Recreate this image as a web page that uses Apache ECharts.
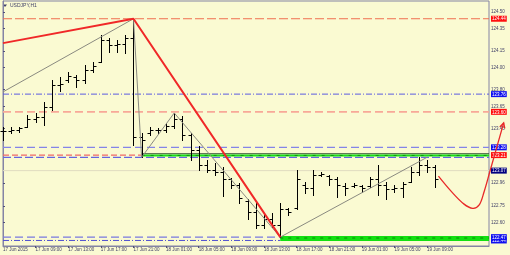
<!DOCTYPE html>
<html><head><meta charset="utf-8">
<script src="https://cdn.jsdelivr.net/npm/echarts@6/dist/echarts.min.js"></script>
<style>html,body{margin:0;padding:0;background:#FAFAD2}#c{width:510px;height:255px}</style>
</head><body><div id="c"></div>
<script>
// ---------- DATA ----------
const barOpen  = [123.43,123.43,123.44,123.46,123.54,123.55,123.64,123.84,123.89,123.91,123.89,123.98,124.05,124.25,124.20,124.21,124.27,
  123.37,123.41,123.44,123.44,123.47,123.54,123.39,123.26,123.12,123.08,123.06,122.99,122.94,122.80,122.70,122.58,122.63,122.58,122.72,
  122.73,122.94,122.91,123.03,123.02,122.99,122.93,122.93,122.93,122.93,122.99,122.94,122.90,122.91,122.97,123.06,123.12,123.10];
const barHigh  = [123.46,123.46,123.46,123.57,123.59,123.69,123.89,123.91,123.96,123.93,124.02,124.05,124.29,124.27,124.25,124.29,124.44,
  123.41,123.46,123.45,123.50,123.59,123.56,123.41,123.29,123.17,123.14,123.10,123.00,122.96,122.81,122.78,122.69,122.69,122.78,122.73,
  123.08,122.97,123.08,123.06,123.03,123.01,122.96,122.96,122.94,123.01,123.12,122.97,122.94,122.97,123.10,123.19,123.17,123.12];
const barLow   = [123.35,123.41,123.42,123.46,123.51,123.48,123.62,123.79,123.87,123.82,123.86,123.96,124.05,124.14,124.14,124.13,123.30,
  123.19,123.39,123.41,123.42,123.45,123.35,123.17,123.08,123.06,123.03,122.84,122.91,122.78,122.63,122.55,122.55,122.56,122.47,122.67,
  122.72,122.87,122.85,123.02,122.94,122.83,122.85,122.92,122.88,122.92,122.85,122.81,122.88,122.83,122.97,123.03,123.06,122.92];
const barClose = [123.43,123.44,123.45,123.54,123.55,123.64,123.84,123.85,123.92,123.89,123.98,124.01,124.25,124.20,124.21,124.27,123.37,
  123.35,123.44,123.44,123.47,123.54,123.39,123.26,123.12,123.08,123.06,122.99,122.94,122.82,122.70,122.58,122.63,122.58,122.72,122.70,
  122.99,122.91,123.03,123.04,122.99,122.94,122.91,122.94,122.91,122.99,122.94,122.90,122.91,122.95,123.06,123.12,123.10,122.99];

const timeLabelIdx = [0,4,8,12,16,20,24,28,32,36,40,44,48,52];
const timeLabels = ['17 Jun 2015','17 Jun 09:00','17 Jun 13:00','17 Jun 17:00','17 Jun 21:00','18 Jun 01:00','18 Jun 05:00',
  '18 Jun 09:00','18 Jun 13:00','18 Jun 17:00','18 Jun 21:00','19 Jun 01:00','19 Jun 05:00','19 Jun 09:00'];
const priceTicks = [124.50,124.35,124.15,124.00,123.80,123.65,123.45,122.96,122.75,122.60];
const levelValues = [124.44,123.76,123.60,123.28,123.21,123.07,122.47,122.44];

const redTrendX = [0, 16, 34];
const redTrendY = [124.22, 124.44, 122.47];
const grayX = [0, 16, 17, 21, 34, 52];
const grayY = [123.78, 124.44, 123.19, 123.59, 122.47, 123.19];
const forecastX = [53.4, 55.0, 56.5, 57.6, 58.4, 59.0, 59.7, 61.4];
const forecastY = [123.02, 122.88, 122.77, 122.73, 122.76, 122.88, 123.06, 123.50];

// ---------- CHART ----------
const XMAX = 59.6, XMIN = 0;
const chart = echarts.init(document.getElementById('c'), null, {renderer:'canvas'});
const FF = 'Liberation Sans';
const boxKinds = ['r','b','r','b','r','n','b','b'];
const boxMap = {};
levelValues.forEach((v,i)=>{ boxMap[v.toFixed(2)] = boxKinds[i]; });

function hline(y, x0, x1, color, width, type, z){
  return {type:'line', data:[[x0,y],[x1,y]], symbol:'none', silent:true, z:z||2,
    lineStyle:{color, width, type}, animation:false};
}
const bars = barOpen.map((o,i)=>[i,o,barHigh[i],barLow[i],barClose[i]]);

const series = [
  hline(levelValues[5], XMIN, XMAX, '#e0dcc0', 1, 'solid', 1),
  hline(levelValues[0], XMIN, XMAX, '#f07050', 1, [9,3], 2),
  hline(levelValues[1], XMIN, XMAX, '#5a5ae0', 1, [6,2,1,2], 2),
  hline(levelValues[2], XMIN, XMAX, '#f8a898', 1.8, [8,4], 2),
  hline(levelValues[3], XMIN, XMAX, '#8484e8', 1.3, [8,4], 2),
  hline(levelValues[4], XMIN, 17, '#f06868', 1.3, [6,3], 2),
  hline(123.19, XMIN, XMAX, '#6464e0', 1.2, [8,3], 2),
  hline(123.222, 17, XMAX, '#2c4c2c', 1, 'solid', 3),
  hline(123.207, 17, XMAX, '#18e018', 2, 'solid', 3),
  hline(123.207, 17, XMAX, '#0a9a0a', 1, [3,6], 3),
  hline(levelValues[6], XMIN, 34, '#7878e0', 1.2, [8,4], 2),
  hline(levelValues[7], XMIN, 34, '#5050d0', 1, [6,2,1,2], 2),
  hline(122.457, 34, XMAX, '#12e012', 5, 'solid', 3),
  hline(122.462, 34, XMAX, '#0a8a0a', 1, [3,5], 3),
  {
    type:'custom', z:5, animation:false, silent:true,
    data: bars, encode:{x:0, y:[1,2,3,4]},
    renderItem(params, api){
      const i = api.value(0);
      const o = api.coord([i, api.value(1)]);
      const h = api.coord([i, api.value(2)]);
      const l = api.coord([i, api.value(3)]);
      const c = api.coord([i, api.value(4)]);
      const x = Math.round(o[0]) + 0.5;
      const st = {stroke:'#000', lineWidth:1};
      const oy = Math.round(o[1]) + 0.5, cy = Math.round(c[1]) + 0.5;
      return {type:'group', children:[
        {type:'line', shape:{x1:x,y1:Math.round(h[1]),x2:x,y2:Math.round(l[1])+1}, style:st},
        {type:'line', shape:{x1:x-3,y1:oy,x2:x,y2:oy}, style:st},
        {type:'line', shape:{x1:x,y1:cy,x2:x+3,y2:cy}, style:st}
      ]};
    }
  },
  {type:'line', z:6, data: grayX.map((x,i)=>[x,grayY[i]]), symbol:'none', silent:true, animation:false,
    lineStyle:{color:'#8a8a80', width:1}},
  {type:'line', z:7, data: redTrendX.map((x,i)=>[x,redTrendY[i]]), symbol:'none', silent:true, animation:false,
    lineStyle:{color:'#f02828', width:2}},
  {
    type:'custom', z:9, clip:false, animation:false, silent:true,
    data:[[forecastX[0], forecastY[0]]], encode:{x:0, y:1},
    renderItem(params, api){
      const pts = forecastX.map((x,i)=>api.coord([x, forecastY[i]]));
      const n = pts.length;
      const a = pts[n-2], b = pts[n-1];
      const dx = b[0]-a[0], dy = b[1]-a[1], len = Math.hypot(dx,dy);
      const ux = dx/len, uy = dy/len, px = -uy, py = ux;
      const L = 5, W = 2.6;
      const head = [[b[0]-ux*L+px*W, b[1]-uy*L+py*W],[b[0],b[1]],[b[0]-ux*L-px*W, b[1]-uy*L-py*W]];
      const st = {stroke:'#e82828', lineWidth:1.3, fill:null};
      return {type:'group', children:[
        {type:'polyline', shape:{points:pts, smooth:0.35}, style:st},
        {type:'polyline', shape:{points:head}, style:st}
      ]};
    }
  }
];

const richBase = {fontSize:4.5, fontFamily:FF, color:'#fff', padding:[1,1,0,1], lineHeight:6};
chart.setOption({
  backgroundColor:'#FAFAD2',
  animation:false,
  grid:{left:2, right:21, top:1, bottom:9, show:true, borderColor:'#8484a4', borderWidth:1, backgroundColor:'transparent'},
  xAxis:{type:'value', min:XMIN, max:XMAX, splitLine:{show:false},
    axisLine:{show:true, lineStyle:{color:'#8484a4'}},
    axisTick:{show:true, length:2, customValues: timeLabelIdx.slice(1), lineStyle:{color:'#505078'}},
    axisLabel:{customValues: timeLabelIdx, margin:1.5, align:'left', fontSize:4.5, fontFamily:FF, color:'#404068',
      formatter:(v)=>{ const k = timeLabelIdx.indexOf(Math.round(v)); return k>=0 ? timeLabels[k] : ''; }}
  },
  yAxis:{type:'value', position:'right', min:122.39, max:124.60, splitLine:{show:false},
    axisLine:{show:true, lineStyle:{color:'#8484a4'}},
    axisTick:{show:true, length:2, customValues: priceTicks, lineStyle:{color:'#505078'}},
    axisLabel:{customValues: priceTicks.concat([levelValues[7]], levelValues.slice(0,7)), margin:2, fontSize:4.5, fontFamily:FF, color:'#404068',
      formatter:(v)=>{ const k=v.toFixed(2); const s=boxMap[k]; return s ? '{'+s+'|'+k+'}' : k; },
      rich:{
        r:Object.assign({}, richBase, {backgroundColor:'#ff1010'}),
        b:Object.assign({}, richBase, {backgroundColor:'#1010f0'}),
        n:Object.assign({}, richBase, {backgroundColor:'#000080'})
      }}
  },
  graphic:[
    {type:'polygon', shape:{points:[[3,4.5],[7,4.5],[5,7]]}, style:{fill:'#404068'}},
    {type:'text', left:10, top:3, style:{text:'USDJPY,H1', fontSize:5, fontFamily:FF, fill:'#404068'}}
  ],
  series
});
</script></body></html>
